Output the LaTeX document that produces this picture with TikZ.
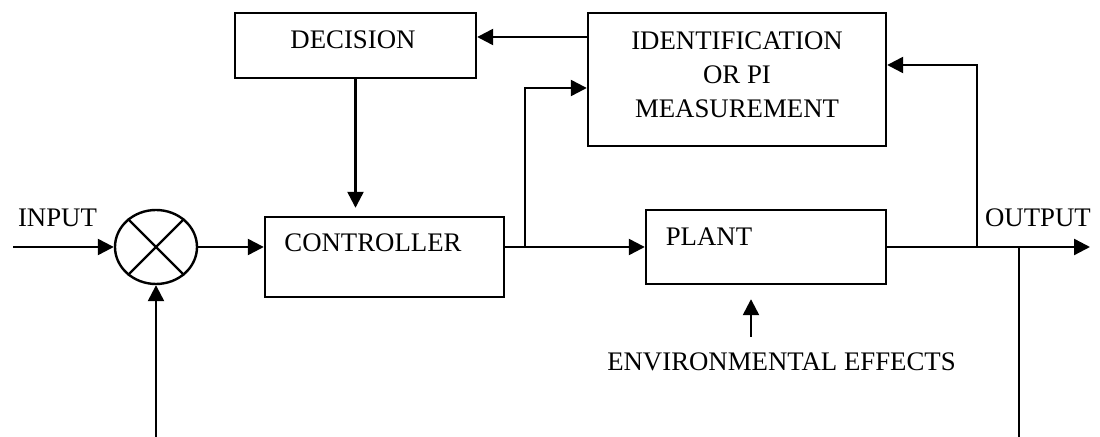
\documentclass[tikz,border=0pt]{standalone}
\usepackage{fontspec}
\setmainfont{Liberation Serif}
\usetikzlibrary{arrows.meta, shapes.geometric, positioning}

\begin{document}
\begin{tikzpicture}[x=0.5pt, y=-0.5pt, line width=1.2pt,
		font=\fontsize{13.4}{17}\selectfont,
		block/.style={draw, rectangle, inner sep=0pt},
		txt/.style={inner sep=0pt, align=center},
		arr/.style={-{Triangle[length=8pt, width=8pt]}}]
		\useasboundingbox (0,0) rectangle (1100,437);
		% blocks
		\node[block, minimum width=120.5pt, minimum height=32.5pt] (dec) at (355.5,45.5) {};
		\node[block, minimum width=149pt, minimum height=66.5pt] (ident) at (737,79.5) {};
		\node[block, minimum width=119.5pt, minimum height=40pt] (ctrl) at (384.5,257) {};
		\node[block, minimum width=120pt, minimum height=37pt] (plant) at (766,247) {};
		\node[draw, ellipse, minimum width=41pt, minimum height=37pt, inner sep=0pt] (sum) at (156,247) {};
		\draw (sum.45) -- (sum.225);
		\draw (sum.135) -- (sum.315);
		% texts
		\node[txt] (dectxt) at (353,40) {DECISION};
		\node[txt] (identtxt) at (737,75) {IDENTIFICATION\\OR PI\\MEASUREMENT};
		\node[txt] (ctrltxt) at (373,243) {CONTROLLER};
		\node[txt] (planttxt) at (709,237) {PLANT};
		\node[txt] (intxt) at (57.5,218) {INPUT};
		\node[txt] (outtxt) at (1038,218) {OUTPUT};
		\node[txt] (envtxt) at (781.5,362) {ENVIRONMENTAL EFFECTS};
		% free ends and junctions
		\coordinate (in) at (13,247);
		\coordinate (fb) at (156,437);
		\coordinate (j1) at (525,247);
		\coordinate (j2) at (977,247);
		\coordinate (j3) at (1019,247);
		\coordinate (down) at (1019,437);
		\coordinate (out) at (1090,247);
		\coordinate (env) at (751,337);
		% connectors
		\draw[arr] (in) -- (sum.west);
		\draw[arr] (fb) -- (sum.south);
		\draw[arr] (sum.east) -- (sum.east -| ctrl.west);
		\draw[arr, shorten >=4pt] (dec.south) -- (dec.south |- ctrl.north);
		\draw[arr] ([yshift=21.25pt]ident.west) -- ([yshift=21.25pt]ident.west -| dec.east);
		\draw[arr] (sum.east -| ctrl.east) -- (plant.west);
		\draw[arr] (j1) |- ([yshift=-4.25pt]ident.west);
		\draw[arr] (plant.east) -- (out);
		\draw[arr] (j2) |- ([yshift=7.25pt]ident.east);
		\draw[line width=0.9pt] (j3) -- (down);
		\draw[arr, shorten >=7pt] (env) -- (env |- plant.south);
	\end{tikzpicture}
\end{document}
